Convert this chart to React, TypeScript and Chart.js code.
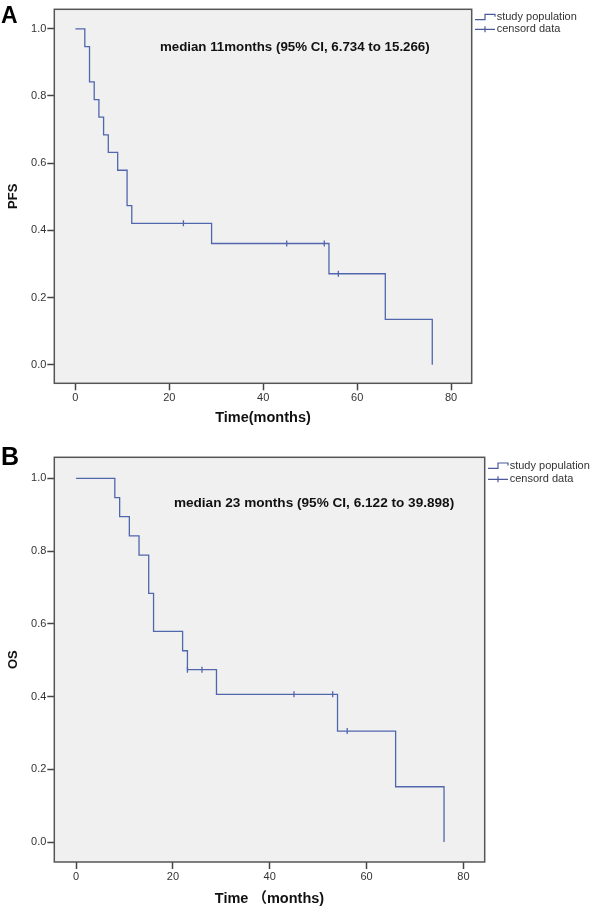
import React, { useEffect, useRef } from "react";
import { Chart, registerables } from "chart.js";

Chart.register(...registerables);

// ---- data ----
const xTicks = [0, 20, 40, 60, 80];
const yTicks = [0, 0.2, 0.4, 0.6, 0.8, 1.0];

const pfsTimes = [0, 2, 3, 4, 5, 6, 7, 9, 11, 12, 29, 54, 66, 76];
const pfsSurv = [1.0, 0.947, 0.842, 0.789, 0.737, 0.684, 0.632, 0.579, 0.474, 0.421, 0.361, 0.271, 0.135, 0.0];
const pfsCensorTimes = [23, 45, 53, 56];
const pfsCensorSurv = [0.421, 0.361, 0.361, 0.271];

const osTimes = [0, 8, 9, 11, 13, 15, 16, 22, 23, 29, 54, 66, 76];
const osSurv = [1.0, 0.947, 0.895, 0.842, 0.789, 0.684, 0.579, 0.526, 0.474, 0.406, 0.305, 0.152, 0.0];
const osCensorTimes = [23, 26, 45, 53, 56];
const osCensorSurv = [0.474, 0.474, 0.406, 0.406, 0.305];

const legendLabels = ["study population", "censord data"];

// ---- style ----
const FONT = "'Liberation Sans', Arial, 'Noto Sans CJK SC', sans-serif";
const LINE = "#5066ad";
const LEGEND_LINE = "#4a5a9a";

type Panel = {
  letter: string;
  letterBaseline: number;
  letterSize: number;
  yTitle: string;
  xTitle: string;
  xTitlePadBottom: number;
  times: number[];
  surv: number[];
  cTimes: number[];
  cSurv: number[];
  note: string;
  noteX: number;
  noteY: number;
  noteSize: number;
  height: number;
  padTop: number;
  padRight: number;
  xAxisH: number;
  legendY1: number;
  legendY2: number;
};

const panels: Panel[] = [
  {
    letter: "A",
    letterBaseline: 22.7,
    letterSize: 23,
    yTitle: "PFS",
    xTitle: "Time(months)",
    xTitlePadBottom: 13.3,
    times: pfsTimes,
    surv: pfsSurv,
    cTimes: pfsCensorTimes,
    cSurv: pfsCensorSurv,
    note: "median 11months (95% CI, 6.734 to 15.266)",
    noteX: 18.0,
    noteY: 0.944,
    noteSize: 13.3,
    height: 440,
    padTop: 9.3,
    padRight: 124.3,
    xAxisH: 56.7,
    legendY1: 8,
    legendY2: 20,
  },
  {
    letter: "B",
    letterBaseline: 25,
    letterSize: 25,
    yTitle: "OS",
    xTitle: "Time （months)",
    xTitlePadBottom: 2.3,
    times: osTimes,
    surv: osSurv,
    cTimes: osCensorTimes,
    cSurv: osCensorSurv,
    note: "median 23 months (95% CI, 6.122 to 39.898)",
    noteX: 20.2,
    noteY: 0.931,
    noteSize: 13.6,
    height: 470,
    padTop: 17.3,
    padRight: 111.3,
    xAxisH: 48,
    legendY1: 8.7,
    legendY2: 22,
  },
];

function makeDecor(p: Panel) {
  return {
    id: "kmDecor" + p.letter,
    beforeDraw(chart: any) {
      const { ctx, chartArea: a } = chart;
      ctx.save();
      ctx.fillStyle = "#f0f0f0";
      ctx.fillRect(a.left, a.top, a.right - a.left, a.bottom - a.top);
      ctx.restore();
    },
    afterDraw(chart: any) {
      const { ctx, chartArea: a, scales } = chart;
      ctx.save();
      // frame
      ctx.strokeStyle = "#555";
      ctx.lineWidth = 1.5;
      ctx.strokeRect(a.left, a.top, a.right - a.left, a.bottom - a.top);

      // panel letter
      ctx.fillStyle = "#000";
      ctx.font = `bold ${p.letterSize}px ${FONT}`;
      ctx.textAlign = "left";
      ctx.textBaseline = "alphabetic";
      ctx.fillText(p.letter, 1, p.letterBaseline);

      // median note
      ctx.font = `bold ${p.noteSize}px ${FONT}`;
      ctx.fillStyle = "#111";
      ctx.textBaseline = "middle";
      ctx.fillText(p.note, scales.x.getPixelForValue(p.noteX), scales.y.getPixelForValue(p.noteY));

      // legend
      const x0 = a.right + 3.3;
      const y1 = a.top + p.legendY1;
      const y2 = a.top + p.legendY2;
      ctx.strokeStyle = LEGEND_LINE;
      ctx.lineWidth = 1.2;
      ctx.beginPath();
      ctx.moveTo(x0, y1 + 2.3);
      ctx.lineTo(x0 + 10, y1 + 2.3);
      ctx.lineTo(x0 + 10, y1 - 3);
      ctx.lineTo(x0 + 20, y1 - 3);
      ctx.lineTo(x0 + 20, y1 - 0.5);
      ctx.stroke();
      ctx.beginPath();
      ctx.moveTo(x0, y2);
      ctx.lineTo(x0 + 20, y2);
      ctx.moveTo(x0 + 10, y2 - 3);
      ctx.lineTo(x0 + 10, y2 + 3);
      ctx.stroke();
      ctx.fillStyle = "#333";
      ctx.font = `11px ${FONT}`;
      ctx.fillText(legendLabels[0], x0 + 21.7, y1);
      ctx.fillText(legendLabels[1], x0 + 21.7, y2);
      ctx.restore();
    },
  };
}

function KMPanel({ p }: { p: Panel }) {
  const ref = useRef<HTMLCanvasElement>(null);
  useEffect(() => {
    if (!ref.current) return;
    const chart = new Chart(ref.current, {
      type: "scatter",
      data: {
        datasets: [
          {
            type: "line",
            data: p.times.map((t, i) => ({ x: t, y: p.surv[i] })),
            stepped: true,
            borderColor: LINE,
            borderWidth: 1.3,
            pointRadius: 0,
            fill: false,
          } as any,
          {
            type: "scatter",
            data: p.cTimes.map((t, i) => ({ x: t, y: p.cSurv[i] })),
            pointStyle: "line",
            rotation: 90,
            pointRadius: 3,
            borderColor: LINE,
            borderWidth: 1.3,
          } as any,
        ],
      },
      options: {
        responsive: false,
        animation: false,
        events: [],
        layout: { padding: { top: p.padTop, right: p.padRight, left: 0, bottom: 0 } },
        plugins: { legend: { display: false }, tooltip: { enabled: false } },
        scales: {
          x: {
            type: "linear",
            min: -4.5,
            max: 84.4,
            afterBuildTicks: (s: any) => {
              s.ticks = xTicks.map((v) => ({ value: v }));
            },
            afterFit: (s: any) => {
              s.height = p.xAxisH;
            },
            ticks: {
              color: "#333",
              padding: 1,
              font: { family: FONT, size: 11 },
              callback: (v: any) => String(v),
            },
            grid: { drawOnChartArea: false, tickLength: 7, tickColor: "#444", tickWidth: 1.5 },
            border: { display: false },
            title: {
              display: true,
              text: p.xTitle,
              color: "#111",
              font: { family: FONT, size: 14.5, weight: "bold" },
              padding: { top: 0, bottom: p.xTitlePadBottom },
            },
          },
          y: {
            type: "linear",
            min: -0.055,
            max: 1.058,
            afterBuildTicks: (s: any) => {
              s.ticks = yTicks.map((v) => ({ value: v }));
            },
            afterFit: (s: any) => {
              s.width = 54.3;
            },
            ticks: {
              color: "#333",
              padding: 1,
              font: { family: FONT, size: 11 },
              callback: (v: any) => Number(v).toFixed(1),
            },
            grid: { drawOnChartArea: false, tickLength: 7, tickColor: "#444", tickWidth: 1.5 },
            border: { display: false },
            title: {
              display: true,
              text: p.yTitle,
              color: "#111",
              font: { family: FONT, size: 13, weight: "bold" },
              padding: { top: 5.5, bottom: 0 },
            },
          },
        },
      } as any,
      plugins: [makeDecor(p)],
    });
    return () => chart.destroy();
  }, [p]);
  return <canvas ref={ref} width={596} height={p.height} style={{ display: "block", width: 596, height: p.height }} />;
}

export default function App() {
  return (
    <div style={{ position: "absolute", left: 0, top: 0, width: 596, height: 910, background: "#fff" }}>
      {panels.map((p) => (
        <KMPanel key={p.letter} p={p} />
      ))}
    </div>
  );
}
